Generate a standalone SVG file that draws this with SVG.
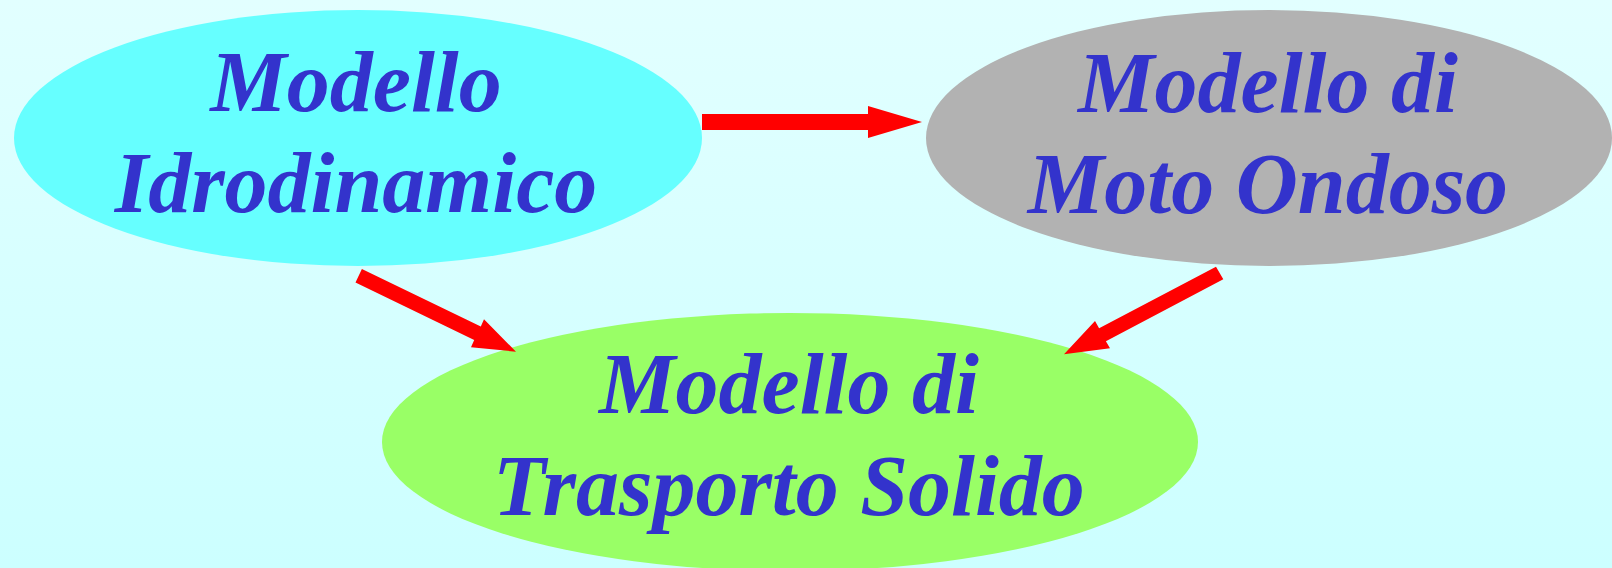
<svg xmlns="http://www.w3.org/2000/svg" width="1612" height="568" viewBox="0 0 1612 568">
  <defs>
    <linearGradient id="bg" x1="0" y1="0" x2="0" y2="1">
      <stop offset="0" stop-color="#e2ffff"/>
      <stop offset="1" stop-color="#ccffff"/>
    </linearGradient>
  </defs>
  <style>
    .lbl { font-family: "Liberation Serif", "Times New Roman", serif; font-weight: bold; font-style: italic; font-size: 86px; fill: #3333cc; text-anchor: middle; }
    .arrow { fill: #ff0000; stroke: none; }
  </style>
  <rect x="0" y="0" width="1612" height="568" fill="url(#bg)"/>
  <g id="node-idro">
    <ellipse cx="358" cy="138" rx="344" ry="128" fill="#66ffff"/>
    <text class="lbl" x="356" y="111">Modello</text>
    <text class="lbl" x="356" y="212">Idrodinamico</text>
  </g>
  <g id="node-moto">
    <ellipse cx="1269" cy="138" rx="343" ry="128" fill="#b2b2b2"/>
    <text class="lbl" x="1268" y="112">Modello di</text>
    <text class="lbl" x="1268" y="213">Moto Ondoso</text>
  </g>
  <g id="node-trasporto">
    <ellipse cx="790" cy="442" rx="408" ry="129" fill="#99ff66"/>
    <text class="lbl" x="789" y="413">Modello di</text>
    <text class="lbl" x="789" y="515">Trasporto Solido</text>
  </g>
  <g id="connectors">
    <polygon class="arrow" points="702,114 868,114 868,106 922,122 868,138 868,130 702,130"/>
    <polygon class="arrow" points="361.9,269.1 480.8,326.5 484,319.3 516,351.7 471,347.3 474.2,340.1 355.5,282.6"/>
    <polygon class="arrow" points="1216,266.7 1099.1,328.2 1095,321 1064,354.3 1110,348.3 1105.9,341.2 1223.3,279.3"/>
  </g>
</svg>
